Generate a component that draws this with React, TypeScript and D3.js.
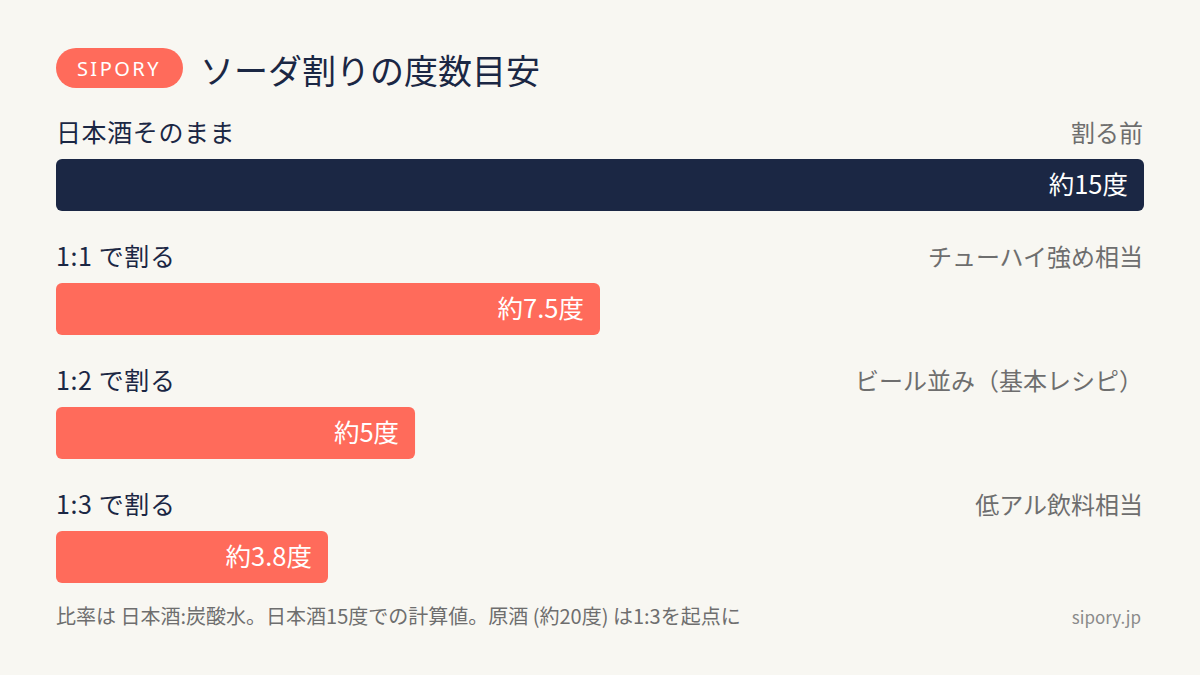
import React from "react";
import * as d3 from "d3";

const categories = ["日本酒そのまま", "1:1 で割る", "1:2 で割る", "1:3 で割る"];
const notes = ["割る前", "チューハイ強め相当", "ビール並み（基本レシピ）", "低アル飲料相当"];
const values = [15, 7.5, 4.95, 3.75];
const valueLabels = ["約15度", "約7.5度", "約5度", "約3.8度"];
const title = "ソーダ割りの度数目安";
const badge = "SIPORY";
const footnote = "比率は 日本酒:炭酸水。日本酒15度での計算値。原酒 (約20度) は1:3を起点に";
const source = "sipory.jp";

const W = 1200;
const H = 675;
const FONT = "'Noto Sans CJK JP', 'Noto Sans', sans-serif";
const NAVY = "#1b2744";
const CORAL = "#ff6b5b";
const BG = "#f8f7f2";

export default function App() {
  const x = d3.scaleLinear().domain([0, 15]).range([56, 1144]);
  const band = d3.scaleBand<number>().domain(d3.range(categories.length)).range([159, 159 + 124 * 4]).paddingInner(0).paddingOuter(0);
  const barH = 52;
  return (
    <svg width={W} height={H} style={{ position: "absolute", left: 0, top: 0, display: "block" }} fontFamily={FONT}>
      <rect width={W} height={H} fill={BG} />
      <rect x={56} y={48} width={127} height={40} rx={20} fill={CORAL} />
      <text x={119} y={76} textAnchor="middle" fill="#fff" fontSize={20} letterSpacing={2.5} fontFamily="'Noto Sans', sans-serif">{badge}</text>
      <text x={200} y={84} fill={NAVY} fontSize={34}>{title}</text>
      {categories.map((c, i) => {
        const y0 = band(i)!;
        return (
          <g key={c}>
            <text x={56} y={y0 - 17} fill={NAVY} fontSize={25} letterSpacing={0.6}>{c}</text>
            <text x={1143} y={y0 - 17} fill="#6e6e6e" fontSize={24} textAnchor="end">{notes[i]}</text>
            <rect x={x(0)} y={y0} width={x(values[i]) - x(0)} height={barH} rx={6} fill={i === 0 ? NAVY : CORAL} />
            <text x={x(values[i]) - 16} y={y0 + 35} fill="#fff" fontSize={25.5} textAnchor="end">{valueLabels[i]}</text>
          </g>
        );
      })}
      <text x={56} y={624} fill="#6e6e6e" fontSize={20}>{footnote}</text>
      <text x={1141} y={624} fill="#8a8a8a" fontSize={17} textAnchor="end">{source}</text>
    </svg>
  );
}
